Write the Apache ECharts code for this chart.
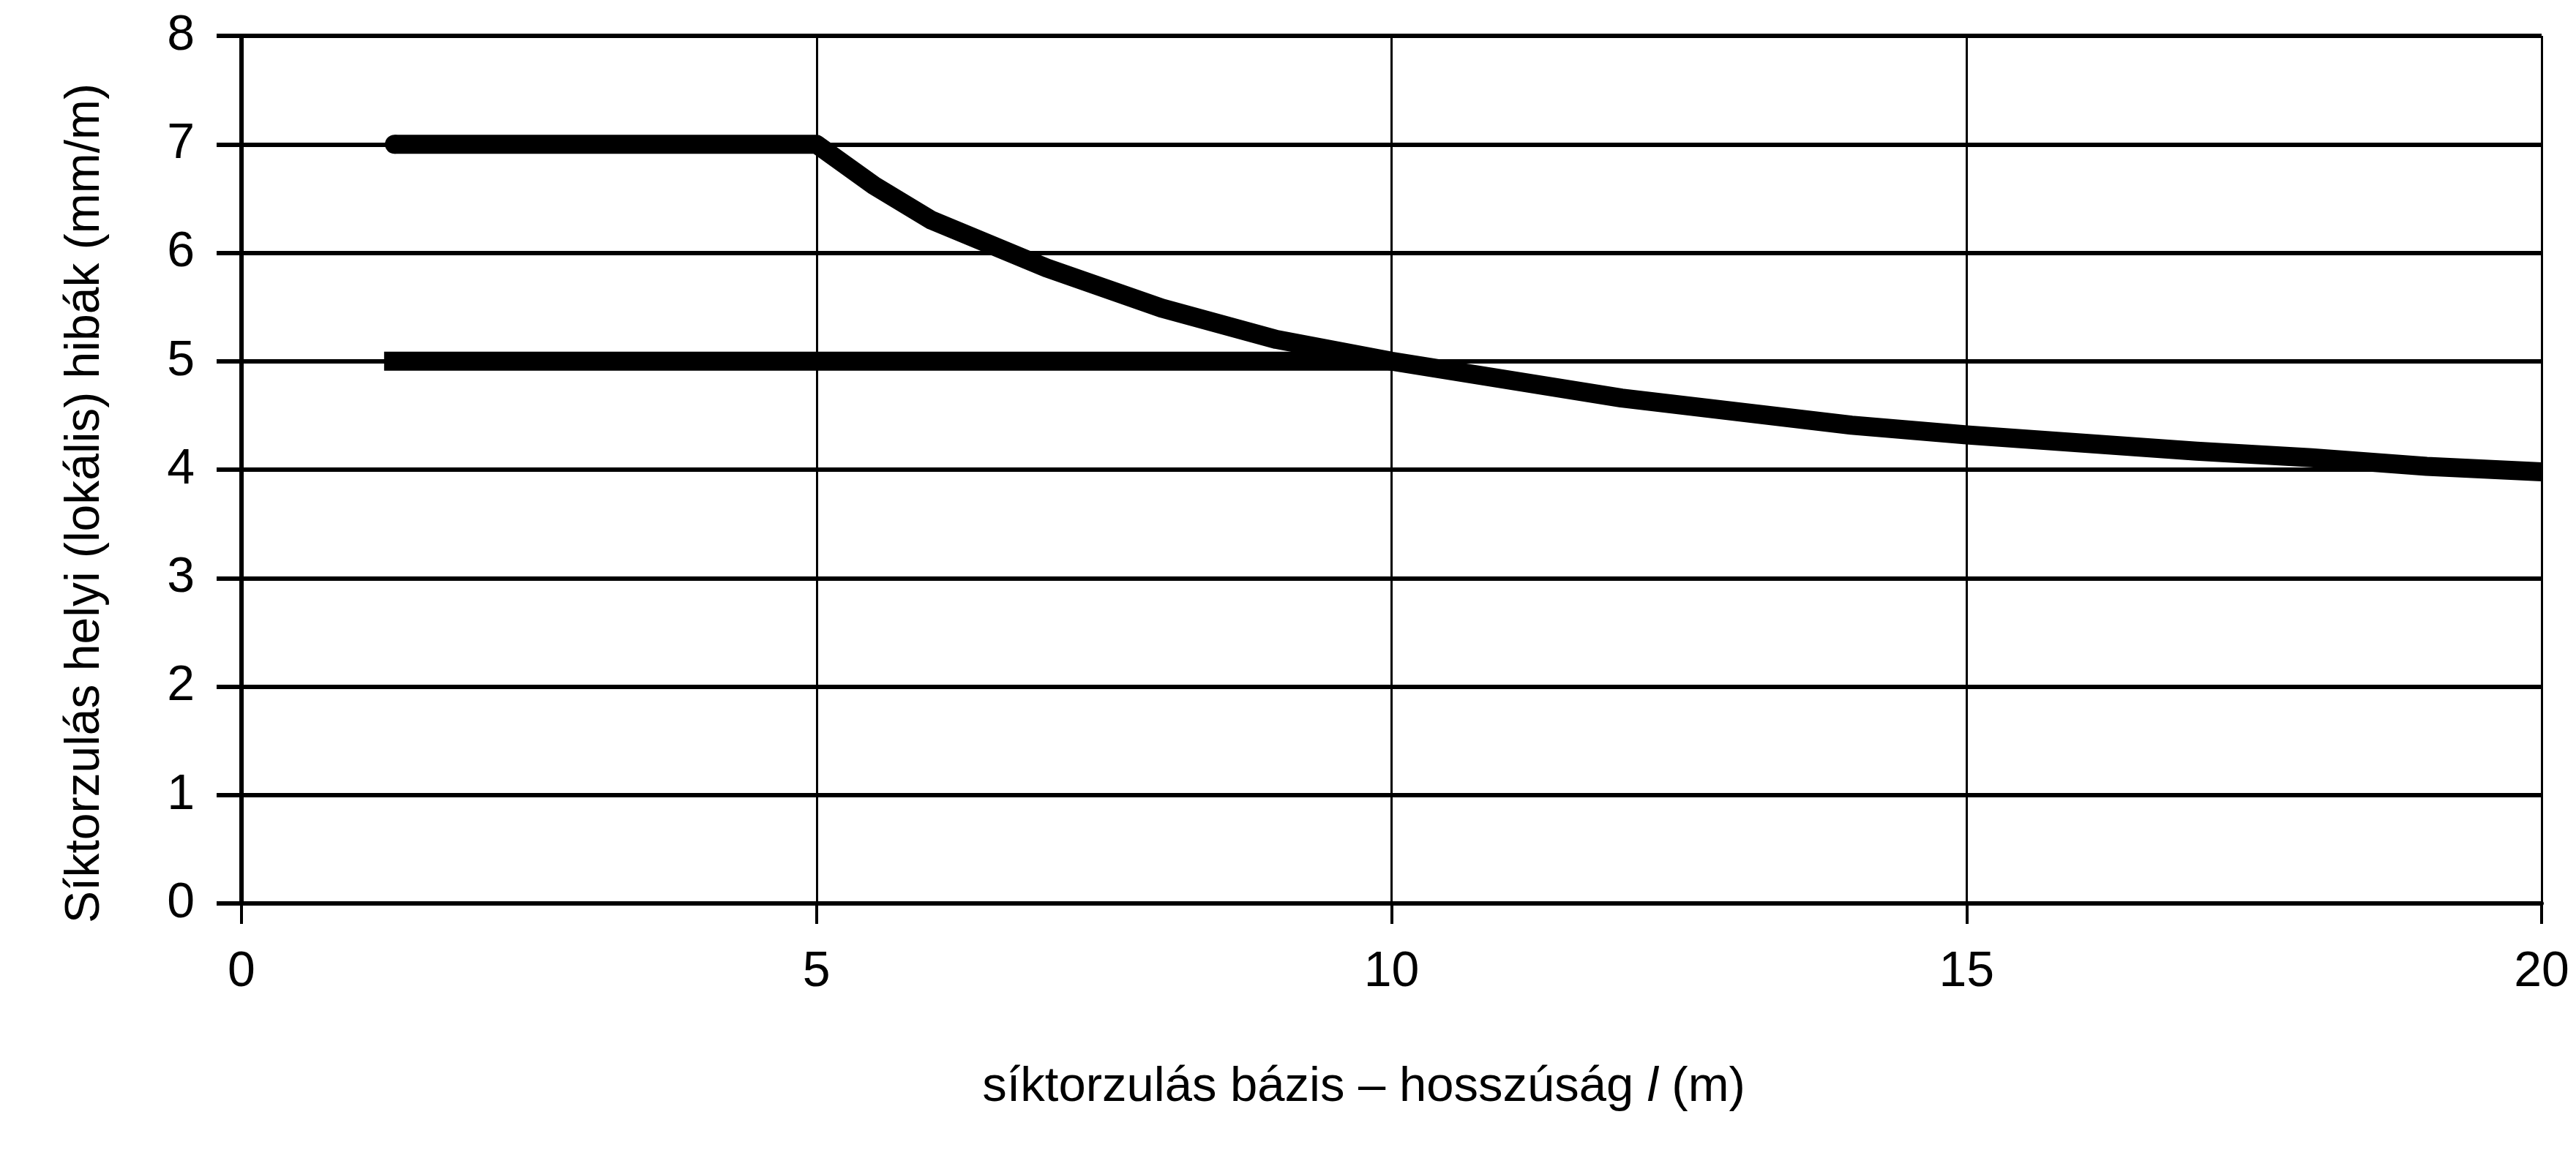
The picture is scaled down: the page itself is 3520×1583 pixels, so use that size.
<!DOCTYPE html>
<html>
<head>
<meta charset="utf-8">
<script src="https://cdn.jsdelivr.net/npm/echarts@6/dist/echarts.min.js"></script>
<style>
  html, body { margin: 0; padding: 0; background: #ffffff; }
  #chart { width: 3520px; height: 1583px; }
</style>
</head>
<body>
<div id="chart"></div>
<script>
// Data
const xTitle = 'síktorzulás bázis – hosszúság {i|l} (m)';
const yTitle = 'Síktorzulás helyi (lokális) hibák (mm/m)';
const limitLineX = [1.24, 10];
const limitLineY = [5, 5];
const curveX = [1.33, 5, 5.5, 6, 7, 8, 9, 10, 12, 14, 15, 17, 18, 19, 20];
const curveY = [7, 7, 6.62, 6.3, 5.86, 5.49, 5.2, 5.0, 4.66, 4.41, 4.32, 4.17, 4.11, 4.03, 3.98];
const startCapX = [1.33];
const startCapY = [7];

const FONT = 'Liberation Sans, Arial, sans-serif';
const LW = 26;
const chart = echarts.init(document.getElementById('chart'), null, { renderer: 'canvas' });

chart.setOption({
  backgroundColor: '#ffffff',
  animation: false,
  grid: { left: 330, right: 47, top: 49, bottom: 348, containLabel: false },
  xAxis: {
    type: 'value', min: 0, max: 20, interval: 5,
    name: xTitle,
    nameLocation: 'middle',
    nameGap: 218,
    nameTextStyle: {
      fontFamily: FONT, fontSize: 67, color: '#000',
      padding: [0, 76, 0, 0],
      rich: { i: { fontFamily: FONT, fontSize: 67, fontStyle: 'italic', color: '#000' } }
    },
    axisLine: { show: true, lineStyle: { color: '#000', width: 6 } },
    axisTick: { show: true, length: 28, inside: false, lineStyle: { color: '#000', width: 4 } },
    axisLabel: { fontFamily: FONT, fontSize: 68, color: '#000', margin: 60 },
    splitLine: { show: true, lineStyle: { color: '#000', width: 3 } }
  },
  yAxis: {
    type: 'value', min: 0, max: 8, interval: 1,
    name: yTitle,
    nameLocation: 'middle',
    nameGap: 180,
    nameTextStyle: {
      fontFamily: FONT, fontSize: 66, color: '#000',
      padding: [0, 92, 0, 0]
    },
    axisLine: { show: true, lineStyle: { color: '#000', width: 6 } },
    axisTick: { show: true, length: 34, inside: false, lineStyle: { color: '#000', width: 6 } },
    axisLabel: { fontFamily: FONT, fontSize: 68, color: '#000', margin: 64 },
    splitLine: { show: true, lineStyle: { color: '#000', width: 6 } }
  },
  series: [
    {
      type: 'line',
      data: limitLineX.map((x, i) => [x, limitLineY[i]]),
      symbol: 'none',
      lineStyle: { color: '#000', width: LW, cap: 'butt', join: 'miter' },
      z: 3
    },
    {
      type: 'line',
      data: curveX.map((x, i) => [x, curveY[i]]),
      symbol: 'none',
      lineStyle: { color: '#000', width: LW, cap: 'butt', join: 'round' },
      z: 4
    },
    {
      type: 'scatter',
      data: startCapX.map((x, i) => [x, startCapY[i]]),
      symbol: 'circle',
      symbolSize: LW,
      itemStyle: { color: '#000', opacity: 1 },
      z: 5
    }
  ]
});
</script>
</body>
</html>
